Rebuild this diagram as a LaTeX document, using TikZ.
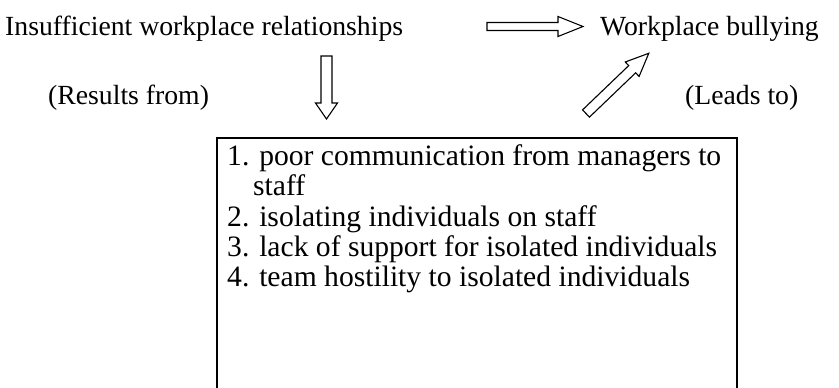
\documentclass[tikz,border=0pt]{standalone}
\usepackage{fontspec}
\setmainfont{Liberation Serif}
\begin{document}
\begin{tikzpicture}[x=1pt,y=-1pt,
  label text/.style={font=\fontsize{27.7}{32}\selectfont, inner sep=0pt, anchor=base west},
  item text/.style={font=\fontsize{29.6}{32}\selectfont, inner sep=0pt, anchor=base west},
  arrowline/.style={draw=black, line width=1.1pt, line join=miter, fill=white},
  boxline/.style={draw=black, line width=2.6pt},
  pics/blockarrow/.style n args={4}{code={
    % shaft half-width #2, head half-width #3, head length #4, total length #1
    \draw[arrowline] (0,-#2) -- (#1-#4,-#2) -- (#1-#4,-#3) -- (#1,0)
      -- (#1-#4,#3) -- (#1-#4,#2) -- (0,#2) -- cycle;
  }}]
\useasboundingbox (0,0) rectangle (839,388);

% top row
\node[label text] (cause) at (5,35) {Insufficient workplace relationships};
\node[label text] (effect) at (600,35) {Workplace bullying};
\pic at (487,26.5) {blockarrow={96}{4}{10}{25}};

% side labels
\node[label text] (from) at (48,104) {(Results from)};
\node[label text] (to) at (685,104) {(Leads to)};
\pic[rotate=-90] at (326.5,56) {blockarrow={63}{5.5}{11}{16}};
\pic[rotate=43.8] at (586,113.5) {blockarrow={87}{5}{10}{23}};

% list box, open at the bottom
\draw[boxline] (217,388) -- (217,138) -- (737,138) -- (737,388);
\node[item text] (i1) at (227,165) {1. poor communication from managers to};
\node[item text] (i1b) at (253,195) {staff};
\node[item text] (i2) at (227,226) {2. isolating individuals on staff};
\node[item text] (i3) at (227,256) {3. lack of support for isolated individuals};
\node[item text] (i4) at (227,286) {4. team hostility to isolated individuals};
\end{tikzpicture}
\end{document}
